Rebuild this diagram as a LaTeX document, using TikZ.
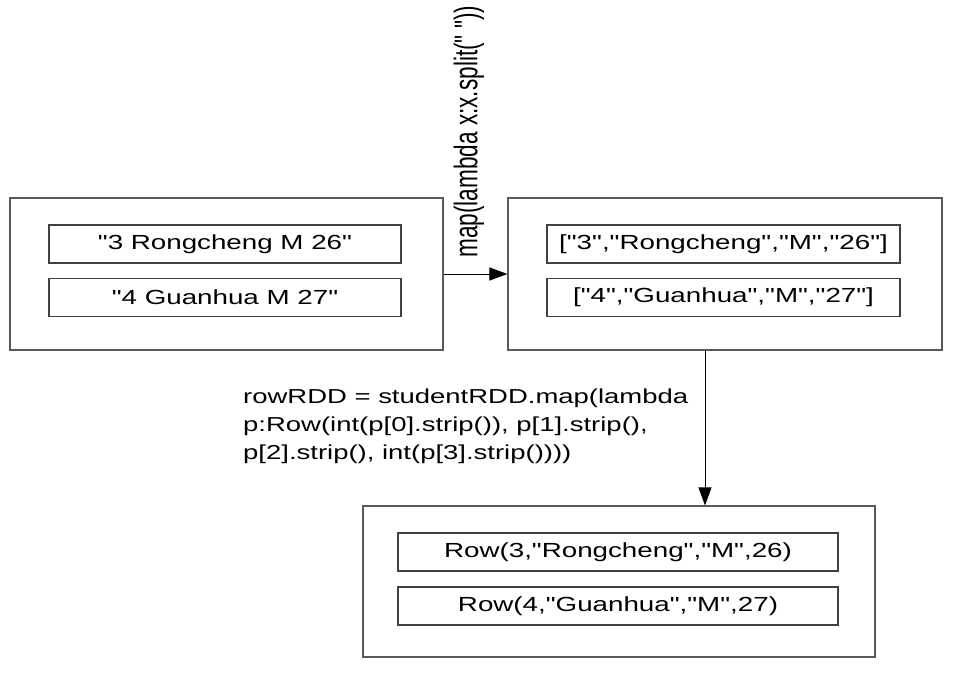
\documentclass[tikz,border=0pt]{standalone}
\usepackage{fontspec}
\setmainfont{Liberation Sans}[FakeStretch=1.36, Ligatures=TeXOff]
\newfontfamily\labelfont{Liberation Sans}[Ligatures=TeXOff]
\usepackage{tikz}
\usetikzlibrary{arrows.meta}

\tikzset{
    outerbox/.style={draw=black!65, line width=1.1pt, minimum height=152pt, inner sep=0pt},
    rowbox/.style={draw=black!75, line width=1.1pt, minimum height=38pt, inner sep=0pt,
        font=\fontsize{20.4}{24}\selectfont},
    flow/.style={draw=black, line width=1pt, -{Triangle[length=18pt,width=13pt]}}
}

\begin{document}
\begin{tikzpicture}[x=1pt, y=-1pt]
        \useasboundingbox (0,0) rectangle (955,674);

        % Define the outer boxes
        \node[outerbox, minimum width=433pt] (lines) at (226.5,274) {};
        \node[outerbox, minimum width=434pt] (split) at (725,274) {};
        \node[outerbox, minimum width=512pt, minimum height=151pt] (rows) at (619,581.5) {};

        % Define the records
        \node[rowbox, minimum width=352pt] (L1) at (225,244) {"3 Rongcheng M 26"};
        \node[rowbox, minimum width=352pt] (L2) at (225,297.5) {"4 Guanhua M 27"};
        \node[rowbox, minimum width=353pt] (S1) at (723.5,244) {["3","Rongcheng","M","26"]};
        \node[rowbox, minimum width=353pt] (S2) at (723.5,297.5) {["4","Guanhua","M","27"]};
        \node[rowbox, minimum width=440pt] (R1) at (618,552) {Row(3,"Rongcheng","M",26)};
        \node[rowbox, minimum width=440pt] (R2) at (618,606) {Row(4,"Guanhua","M",27)};

        % Define the edges
        \draw[flow] (lines.east) -- (split.west);
        \coordinate (down) at (705,0);
        \draw[flow] (split.south -| down) -- (rows.north -| down);

        % Transformations
        \node[rotate=90, yscale=1.45, transform shape, anchor=west, inner sep=0pt,
            font=\labelfont\fontsize{22.6}{26}\selectfont] (mapsplit) at (469,258) {map(lambda x:x.split(" "))};
        \node[anchor=north west, inner sep=0pt, align=left,
            font=\fontsize{20.2}{28}\selectfont] (maprow) at (243,389)
            {rowRDD = studentRDD.map(lambda\\
             p:Row(int(p[0].strip()), p[1].strip(),\\
             p[2].strip(), int(p[3].strip())))};

    \end{tikzpicture}
\end{document}
